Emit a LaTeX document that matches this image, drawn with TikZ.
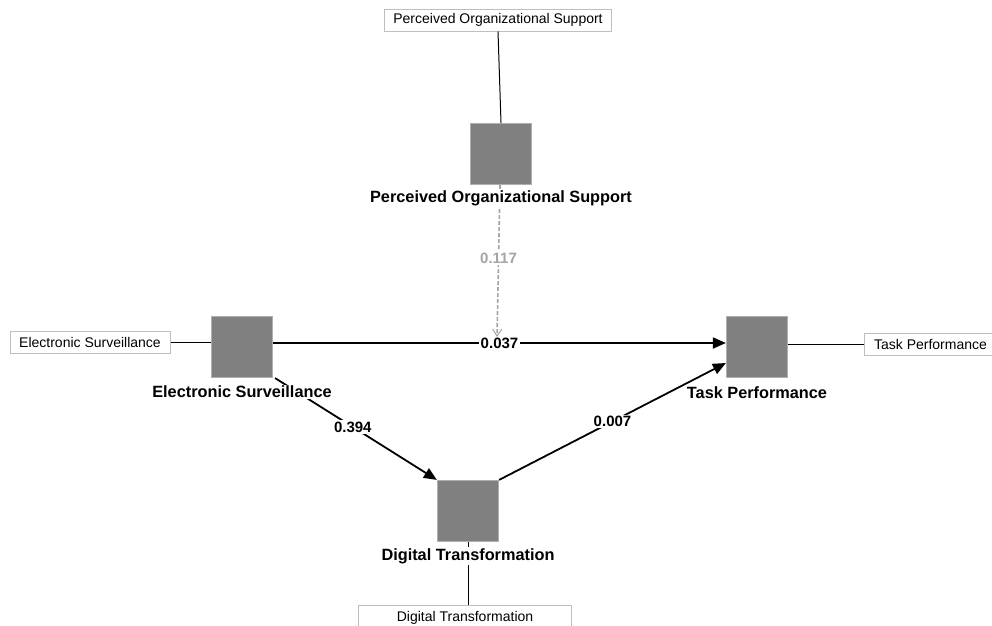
\documentclass[tikz,border=0pt]{standalone}
\usepackage{fontspec}
\setmainfont{Liberation Sans}
\usetikzlibrary{arrows.meta}
\definecolor{sqfill}{RGB}{128,128,128}
\definecolor{sqborder}{RGB}{175,175,175}
\definecolor{boxborder}{RGB}{190,190,190}
\definecolor{dashgray}{RGB}{165,165,165}
\begin{document}
\begin{tikzpicture}[x=1pt,y=-1pt,
  latent/.style={draw=sqborder,fill=sqfill,line width=1.2pt,minimum size=61pt,inner sep=0pt},
  indic/.style={draw=boxborder,fill=white,line width=1pt,font=\fontsize{14}{16}\selectfont,inner sep=3pt,minimum height=22pt},
  lname/.style={fill=white,font=\bfseries\fontsize{16.3}{18}\selectfont,inner sep=1.5pt},
  coef/.style={fill=white,font=\bfseries\fontsize{15}{17}\selectfont,inner sep=1.5pt},
  path/.style={line width=1.8pt,-{Triangle[length=13pt,width=11pt]}},
  thin/.style={line width=1pt,black}]
\useasboundingbox (0,0) rectangle (992,625);
\fill[white] (0,0) rectangle (992,625);
% latent squares
\node[latent] (POS) at (501,154) {};
\node[latent] (ES) at (242,347) {};
\node[latent] (TP) at (757,347) {};
\node[latent] (DT) at (468,511) {};
% indicator boxes
\node[indic,minimum width=227pt] (POSi) at (498,20) {Perceived Organizational Support};
\node[indic,minimum width=160pt] (ESi) at (90,342) {Electronic Surveillance};
\node[indic,minimum width=132pt,anchor=west] (TPi) at (864,344) {Task Performance};
\node[indic,minimum width=213pt,minimum height=36pt,text depth=14pt] (DTi) at (465,623) {Digital Transformation};
% indicator links
\draw[thin] (POSi.south) -- (POS.north);
\draw[thin] (ESi.east) -- (ES.west |- ESi.east);
\draw[thin] (TPi.west) -- (TP.east |- TPi.west);
\draw[thin] (DT.south) -- (DTi.north -| DT.south);
% structural paths
\coordinate (ESr) at ([yshift=4pt]ES.east);
\coordinate (TPl) at ([yshift=4pt]TP.west);
\draw[path] (ESr) -- node[coef]{0.037} (TPl);
\draw[path] ([xshift=2pt]ES.south east) -- node[coef,pos=0.48]{0.394} (DT.north west);
\draw[path] (DT.north east) -- node[coef,pos=0.5]{0.007} ([yshift=-16pt]TP.west);
\draw[dashgray,dashed,line width=1.6pt,dash pattern=on 4pt off 2pt,-{Straight Barb[length=7pt,width=9pt,line width=1pt]}]
  ([xshift=-1pt]POS.south) -- node[coef,text=dashgray,pos=0.48]{0.117} ([xshift=-4pt,yshift=6pt]ESr -| POS.south);
% latent names
\node[lname] at (501,198) {Perceived Organizational Support};
\node[lname] at (242,392) {Electronic Surveillance};
\node[lname] at (757,393) {Task Performance};
\node[lname] at (468,556) {Digital Transformation};
\end{tikzpicture}
\end{document}
